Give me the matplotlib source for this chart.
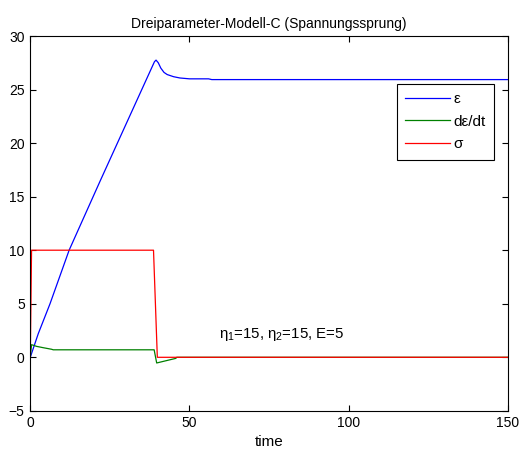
import numpy as np
import matplotlib
matplotlib.use('Agg')
import matplotlib.pyplot as plt

plt.rcParams['font.family'] = ['Liberation Sans', 'DejaVu Sans']
plt.rcParams['mathtext.fontset'] = 'custom'
plt.rcParams['mathtext.rm'] = 'Liberation Sans'
plt.rcParams['mathtext.it'] = 'Liberation Sans'

# --- Data (three-parameter model, stress step) ---
t_eps = [0, 2.5, 6.2, 12.2, 22.0, 39.0, 39.5, 40.2, 41.0, 42.0, 43.0, 45.0,
         47.0, 50.0, 56.0, 57.0, 150]
eps = [0, 2.2, 5.0, 10.0, 16.5, 27.6, 27.75, 27.5, 27.0, 26.6, 26.4, 26.2,
       26.08, 26.0, 26.0, 25.93, 25.93]

t_deps = [0, 0.4, 2.0, 4.0, 6.7, 7.2, 38.9, 39.7, 45.7, 46.0, 150]
deps = [0, 1.18, 1.02, 0.9, 0.75, 0.7, 0.7, -0.53, -0.1, 0.0, 0.0]

t_sig = [0, 0.4, 38.7, 39.9, 150]
sig = [0, 10, 10, 0, 0]

fig = plt.figure(figsize=(5.22, 4.5), dpi=100)
ax = fig.add_axes([0.058, 0.087, 0.915, 0.833])

ax.plot(t_eps, eps, color=(0, 0, 1), lw=0.9, label='ε')
ax.plot(t_deps, deps, color=(0, 0.5, 0), lw=0.9, label='dε/dt')
ax.plot(t_sig, sig, color=(1, 0, 0), lw=0.9, label='σ')

ax.set_xlim(0, 150)
ax.set_ylim(-5, 30)
ax.set_xticks([0, 50, 100, 150])
ax.set_yticks(np.arange(-5, 31, 5))
ax.tick_params(direction='in', top=True, right=True, labelsize=10, length=4, pad=4)
for s in ax.spines.values():
    s.set_linewidth(0.8)

ax.set_title('Dreiparameter-Modell-C (Spannungssprung)', fontsize=10)
ax.set_xlabel('time', fontsize=11, labelpad=3)

ax.text(59.3, 1.8, r'$\eta_1$=15, $\eta_2$=15, E=5', fontsize=10.8, va='baseline')

leg = ax.legend(loc='upper right', bbox_to_anchor=(0.971, 0.872), fontsize=11,
                fancybox=False, edgecolor='black', framealpha=1,
                handlelength=2.9, handletextpad=0.25, borderpad=0.55,
                labelspacing=0.55, borderaxespad=0)
leg.get_frame().set_linewidth(0.8)

fig.savefig('out.png', dpi=100)
